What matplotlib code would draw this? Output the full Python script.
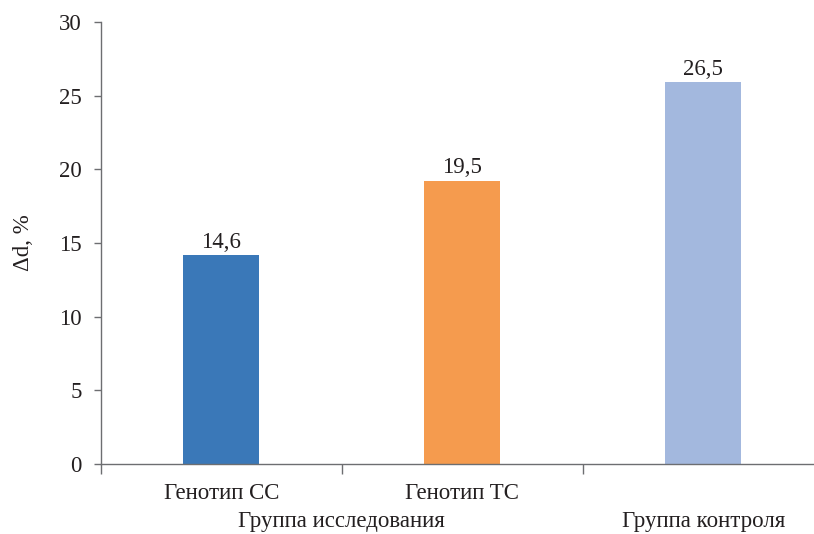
import matplotlib
matplotlib.use("Agg")
import matplotlib.pyplot as plt
from matplotlib.ticker import FixedLocator, NullFormatter

plt.rcParams['font.family'] = ['Liberation Serif', 'DejaVu Serif']

# Data
categories = ["Генотип CC", "Генотип TC", "Группа контроля"]
bar_heights = [14.15, 19.2, 25.9]
bar_labels = ["14,6", "19,5", "26,5"]
colors = ["#3A78B8", "#F59B4E", "#A3B8DE"]
group_labels = ["Группа исследования", "Группа контроля"]
y_ticks = [0, 5, 10, 15, 20, 25, 30]
y_label = "Δd, %"

FS = 16.5
fig = plt.figure(figsize=(8.14, 5.34), dpi=100)
ax = fig.add_axes([0.124, 0.131, 0.876, 0.828])

x = list(range(len(categories)))
ax.bar(x, bar_heights, width=0.315, color=colors, zorder=2)

text_color = "#231f20"
for xi, h, lab in zip(x, bar_heights, bar_labels):
    ax.annotate(lab, (xi, h), xytext=(0, 2), textcoords="offset points",
                ha="center", va="bottom", fontsize=FS, color=text_color)

ax.set_xlim(-0.5, 2.46)
ax.set_ylim(0, 30)
ax.set_yticks(y_ticks)
ax.set_yticklabels([str(t) for t in y_ticks], fontsize=FS, color=text_color)
ax.set_ylabel(y_label, fontsize=FS, color=text_color, labelpad=18)

ax.xaxis.set_major_locator(FixedLocator([-0.5, 0.5, 1.5]))
ax.xaxis.set_major_formatter(NullFormatter())
ax.tick_params(axis='x', direction='out', length=7, width=1, color="#6d6e71")
ax.tick_params(axis='y', direction='out', length=5, width=1, color="#6d6e71", pad=9)

for s in ["top", "right"]:
    ax.spines[s].set_visible(False)
for s in ["left", "bottom"]:
    ax.spines[s].set_color("#6d6e71")
    ax.spines[s].set_linewidth(1)

# Category labels (first line)
for xi, cat in zip(x[:2], categories[:2]):
    ax.text(xi, -0.066, cat, transform=ax.get_xaxis_transform(),
            ha="center", va="center", fontsize=FS, color=text_color)
# Group labels (second line)
ax.text(0.5, -0.131, group_labels[0], transform=ax.get_xaxis_transform(),
        ha="center", va="center", fontsize=FS, color=text_color)
ax.text(2, -0.131, group_labels[1], transform=ax.get_xaxis_transform(),
        ha="center", va="center", fontsize=FS, color=text_color)

fig.savefig("out.png", dpi=100)
